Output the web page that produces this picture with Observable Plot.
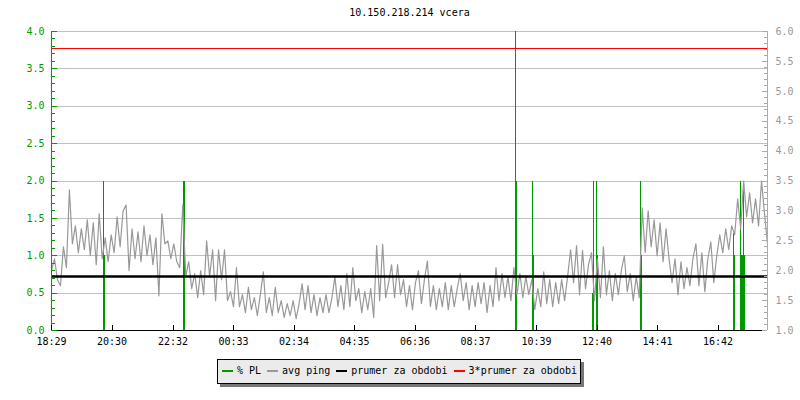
<!DOCTYPE html>
<html><head><meta charset="utf-8">
<script src="https://cdn.jsdelivr.net/npm/d3@7"></script>
<script src="https://cdn.jsdelivr.net/npm/@observablehq/plot@0.6"></script>
<style>
body{margin:0;background:#fff;}
#wrap{position:relative;width:800px;height:400px;font-family:"DejaVu Sans Mono",monospace;font-size:10px;color:#000;}
#title{position:absolute;left:0;width:819px;top:7px;text-align:center;line-height:12px;white-space:pre;}
#chart{position:absolute;left:0;top:0;}
#legend{position:absolute;left:217px;top:359px;width:364px;height:25px;box-sizing:border-box;border:1px solid #000;background:#ebebeb;box-shadow:3px 3px 0 #777;display:flex;align-items:center;padding-left:4px;padding-bottom:2px;white-space:pre;}
.sw{display:inline-block;width:11px;height:2px;margin-right:4px;margin-top:1px;}
.it{display:flex;align-items:center;margin-right:6px;}
</style></head><body>
<div id="wrap"><div id="chart"></div><div id="title"></div><div id="legend"></div></div>
<script>
const title = "10.150.218.214 vcera";
const xTickLabels = ["18:29","20:30","22:32","00:33","02:34","04:35","06:36","08:37","10:39","12:40","14:41","16:42"];
const startTime = "18:29";
const spanMinutes = 1432;
const leftMax = 4, rightMin = 1, rightMax = 6;
const seriesNames = ["% PL","avg ping","prumer za obdobi","3*prumer za obdobi"];
const seriesColors = ["#009900","#999999","#000000","#ff0000"];
// average ping (ms), right axis
const pingMs = [
2.0,2.2,1.85,1.75,2.4,2.05,3.35,2.45,2.75,2.3,2.7,2.35,2.85,2.25,2.8,2.1,2.95,2.2,2.55,2.15,
2.6,2.3,2.9,2.4,3.0,3.1,2.0,2.7,2.2,2.65,2.15,2.75,2.25,2.6,2.1,2.55,1.58,2.95,2.45,2.5,
2.2,2.45,2.15,2.05,3.1,1.9,2.15,1.7,1.95,1.55,2.0,1.6,2.5,1.9,2.35,1.5,2.35,1.85,2.35,1.5,
1.65,1.4,2.05,1.4,1.6,1.3,1.72,1.35,1.55,1.25,1.6,1.98,1.3,1.55,1.25,1.72,1.3,1.5,1.22,1.45,
1.25,1.5,1.2,1.45,1.78,1.35,1.75,1.3,1.6,1.25,1.55,1.3,1.6,1.3,1.55,1.9,1.4,1.75,1.35,1.95,
1.4,2.05,1.5,1.7,1.3,1.65,1.35,1.7,1.22,2.42,1.5,2.44,1.55,1.8,2.1,1.55,2.1,1.6,1.85,1.4,
1.75,1.35,1.8,2.0,1.45,1.85,2.16,1.4,1.75,1.35,1.7,1.4,1.8,1.35,1.75,1.4,1.7,1.95,1.5,1.8,
1.35,1.75,1.4,1.8,1.45,1.8,1.3,1.75,1.4,2.05,1.5,1.95,1.55,1.9,1.5,2.05,1.6,1.95,1.55,1.9,
1.6,1.85,1.35,1.7,1.4,1.98,1.45,1.85,1.4,1.8,1.45,1.85,1.5,1.9,2.35,1.8,2.42,1.6,2.34,1.7,
2.1,2.3,1.5,2.2,1.55,2.4,1.6,2.0,1.5,1.95,1.6,2.0,2.25,1.65,1.95,1.5,1.9,1.55,3.05,2.3,
3.0,2.4,2.85,2.25,2.8,2.15,2.7,2.2,1.8,2.2,1.6,2.15,1.7,2.05,1.75,2.2,2.45,1.75,2.3,1.65,
2.2,2.48,1.8,2.25,2.6,2.3,2.7,2.35,2.75,2.6,3.2,2.7,3.5,2.9,3.3,2.8,3.2,2.75,3.5,2.95,
2.45];
// packet loss samples (% , left axis), minutes after start
const plMinutes = [104,106,264,266,928,930,962,964,1082,1084,1090,1092,1178,1180,1364,1366,1378,1380,1382,1384,1386];
const plPercent = [2,1,2,2,4,2,2,1,0.5,2,2,1,2,1,1.3,1,2,1,1,2,1];
const avgPing = 1.903;

const W = 800, H = 400, mL = 51, mR = 33, mT = 31, mB = 70;
const frameW = W - mL - mR, frameH = H - mT - mB;
const green = seriesColors[0];
const toLeft = v => (v - rightMin) / (rightMax - rightMin) * leftMax;
const toRight = l => l / leftMax * (rightMax - rightMin) + rightMin;
const pingData = pingMs.map((v, i) => ({t: i * spanMinutes / (pingMs.length - 1), y: toLeft(v)}));
const [sh, sm] = startTime.split(":").map(Number);
const tickMin = xTickLabels.map(s => { const [h, m] = s.split(":").map(Number); let d = h * 60 + m - (sh * 60 + sm); if (d < 0) d += 1440; return d; });
const leftMajor = d3.range(0, leftMax + 0.001, 0.5);
const leftMinor = d3.range(0, leftMax + 0.001, 0.1);
const rightMajor = d3.range(rightMin, rightMax + 0.001, 0.5).map(toLeft);
const rightMinor = d3.range(rightMin, rightMax + 0.001, 0.1).map(toLeft);
const f1 = d3.format(".1f");

const chart = Plot.plot({
  width: W, height: H, marginLeft: mL, marginRight: mR, marginTop: mT, marginBottom: mB,
  style: {fontFamily: "DejaVu Sans Mono", fontSize: "10px", background: "transparent"},
  x: {domain: [0, spanMinutes]},
  y: {domain: [0, leftMax]},
  marks: [
    Plot.ruleY(leftMajor, {stroke: "#c0c0c0", shapeRendering: "crispEdges"}),
    Plot.ruleX(plMinutes, {x: d => d, y1: 0, y2: (d, i) => Math.min(plPercent[i], leftMax), stroke: green, shapeRendering: "crispEdges"}),
    Plot.line(pingData, {x: "t", y: "y", stroke: seriesColors[1], strokeWidth: 1.2}),
    Plot.ruleY([toLeft(avgPing)], {stroke: seriesColors[2], strokeWidth: 2.5}),
    Plot.ruleY([toLeft(3 * avgPing)], {stroke: seriesColors[3], strokeWidth: 1, shapeRendering: "crispEdges"}),
    Plot.ruleX([0], {stroke: green, shapeRendering: "crispEdges"}),
    Plot.ruleX([spanMinutes], {stroke: "#aaaaaa", shapeRendering: "crispEdges"}),
    Plot.ruleY([0], {stroke: "#000", shapeRendering: "crispEdges"}),
    Plot.tickY(leftMinor, {y: d => d, stroke: green, insetRight: frameW - 4, shapeRendering: "crispEdges"}),
    Plot.tickY(leftMajor, {y: d => d, stroke: green, insetRight: frameW - 6, shapeRendering: "crispEdges"}),
    Plot.tickY(rightMinor, {y: d => d, stroke: "#aaaaaa", insetLeft: frameW - 3, shapeRendering: "crispEdges"}),
    Plot.tickY(rightMajor, {y: d => d, stroke: "#aaaaaa", insetLeft: frameW - 5, shapeRendering: "crispEdges"}),
    Plot.tickX(tickMin, {x: d => d, stroke: "#000", insetTop: frameH - 5, shapeRendering: "crispEdges"}),
    Plot.axisY(leftMajor, {anchor: "left", tickSize: 0, tickPadding: 7, tickFormat: f1, color: green, label: null}),
    Plot.axisY(rightMajor, {anchor: "right", tickSize: 0, tickPadding: 8, tickFormat: d => f1(toRight(d)), color: "#999999", label: null}),
    Plot.axisX(tickMin, {anchor: "bottom", tickSize: 0, tickPadding: 7, tickFormat: d => xTickLabels[tickMin.indexOf(d)], color: "#000", label: null})
  ]
});
document.getElementById("chart").appendChild(chart);
document.getElementById("title").textContent = title;
const lg = document.getElementById("legend");
seriesNames.forEach((n, i) => {
  const it = document.createElement("span"); it.className = "it";
  const sw = document.createElement("span"); sw.className = "sw"; sw.style.background = seriesColors[i];
  const tx = document.createElement("span"); tx.textContent = n;
  it.appendChild(sw); it.appendChild(tx); lg.appendChild(it);
});
</script></body></html>
